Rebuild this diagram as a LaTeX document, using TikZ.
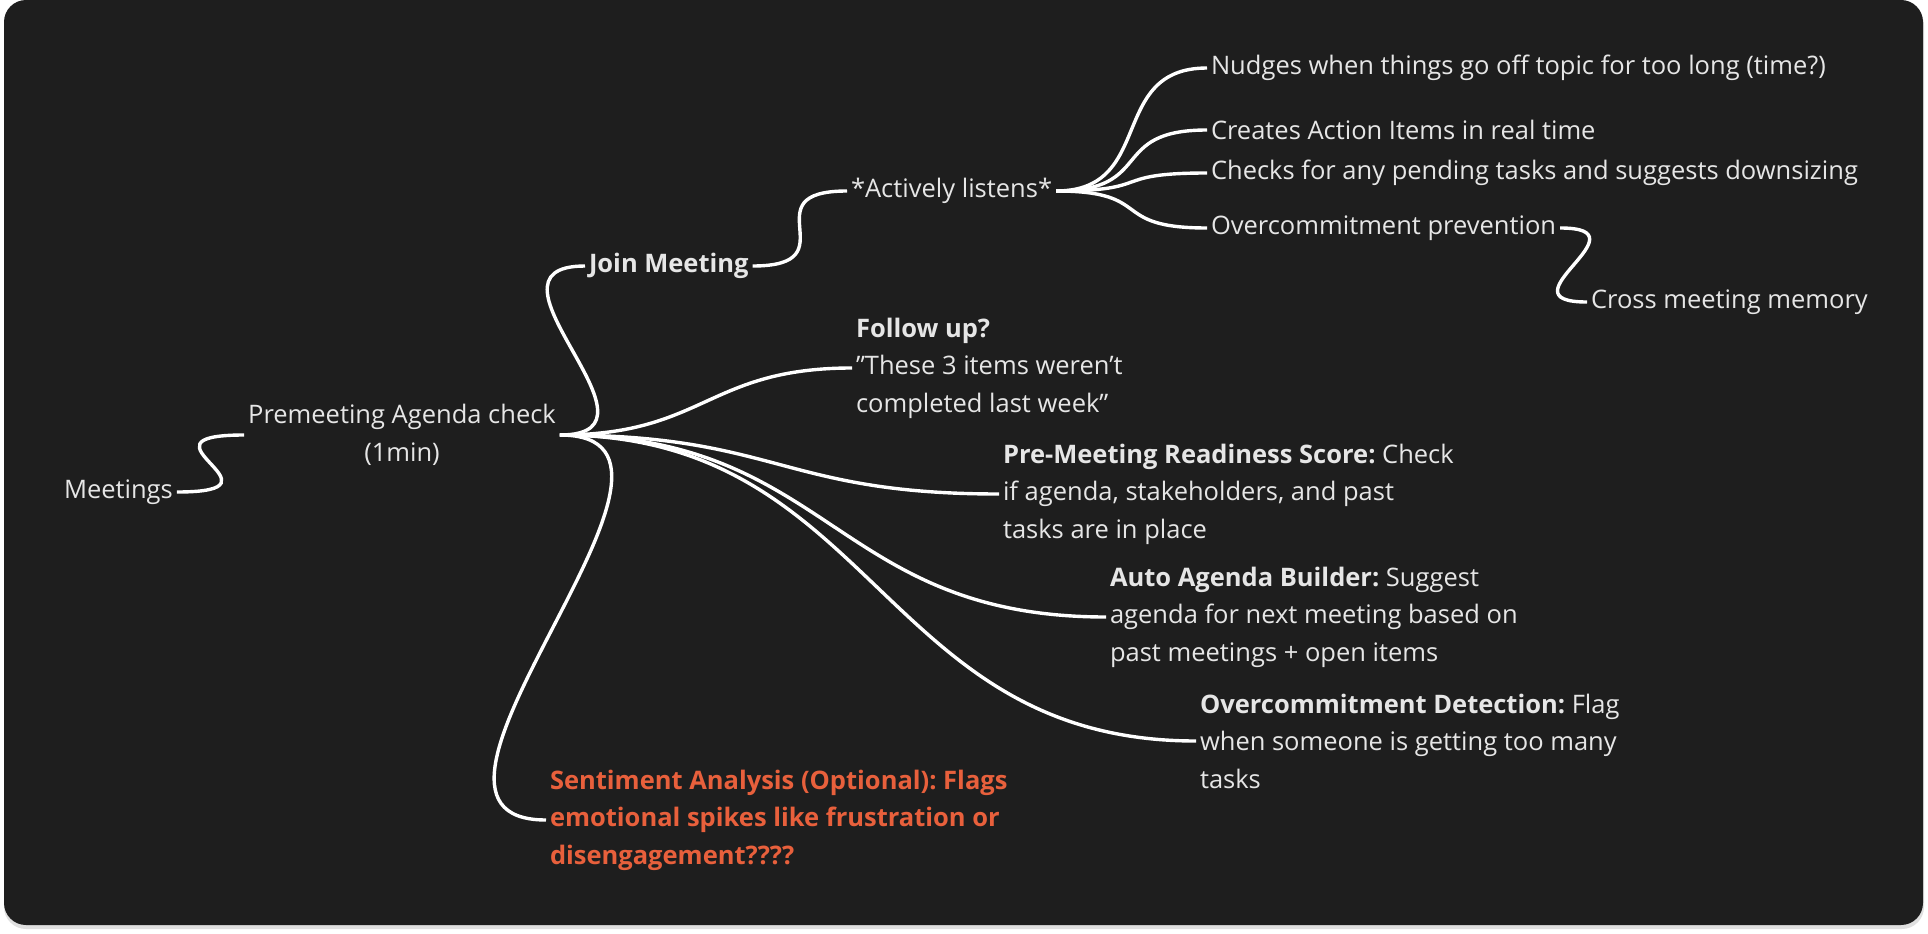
\documentclass[tikz,border=0pt]{standalone}
\usepackage{fontspec}
\setmainfont{Open Sans}
\usepackage{xcolor}
\definecolor{board}{HTML}{1E1E1E}
\definecolor{ink}{HTML}{E6E6E6}
\definecolor{alert}{HTML}{E8603C}
\frenchspacing

\begin{document}
\begin{tikzpicture}[
    x=1pt, y=-1pt,
    idea/.style={anchor=west, text=ink, inner sep=0pt, outer sep=4pt, align=left,
        font=\fontsize{25.5}{37.5}\selectfont},
    link/.style={draw=white, line width=3.4pt}
]
    % Board
    \useasboundingbox (0,0) rectangle (1928,934);
    \fill[black!12, rounded corners=22pt] (4,3) rectangle (1924,929);
    \fill[board, rounded corners=22pt] (4,0) rectangle (1923,925);

    % Ideas
    \node[idea] (meet) at (60,492) {Meetings};
    \node[idea, anchor=center, align=center] (pre) at (402,435) {Premeeting Agenda check\\(1min)};
    \node[idea, font=\fontsize{25.5}{37.5}\selectfont\bfseries] (join) at (585,266) {Join Meeting};
    \node[idea] (listen) at (847,191) {*Actively listens*};
    \node[idea] (nudge) at (1207,68) {Nudges when things go off topic for too long (time?)};
    \node[idea] (action) at (1207,130) {Creates Action Items in real time};
    \node[idea] (pending) at (1207,173) {Checks for any pending tasks and suggests downsizing};
    \node[idea] (prevent) at (1207,228) {Overcommitment prevention};
    \node[idea] (cross) at (1587,302) {Cross meeting memory};
    \node[idea] (follow) at (852,368) {\textbf{Follow up?}\\”These 3 items weren’t\\completed last week”};
    \node[idea] (ready) at (999,494) {\textbf{Pre-Meeting Readiness Score:} Check\\if agenda, stakeholders, and past\\tasks are in place};
    \node[idea] (agenda) at (1106,617) {\textbf{Auto Agenda Builder:} Suggest\\agenda for next meeting based on\\past meetings + open items};
    \node[idea] (detect) at (1196,741) {\textbf{Overcommitment Detection:} Flag\\when someone is getting too many\\tasks};
    \node[idea, text=alert, font=\fontsize{25.5}{37.5}\selectfont\bfseries] (mood) at (546,820) {Sentiment Analysis (Optional): Flags\\emotional spikes like frustration or\\disengagement????};

    % Links
    \draw[link] (meet.east) .. controls +(120,0) and +(-120,0) .. (pre.west);
    \draw[link] (pre.east) .. controls +(120,0) and +(-120,0) .. (join.west);
    \draw[link] (join.east) .. controls +(100,0) and +(-100,0) .. (listen.west);
    \draw[link] (listen.east) .. controls +(100,0) and +(-100,0) .. (nudge.west);
    \draw[link] (listen.east) .. controls +(100,0) and +(-100,0) .. (action.west);
    \draw[link] (listen.east) .. controls +(100,0) and +(-100,0) .. (pending.west);
    \draw[link] (listen.east) .. controls +(100,0) and +(-100,0) .. (prevent.west);
    \draw[link] (prevent.east) .. controls +(90,0) and +(-90,0) .. (cross.west);
    \draw[link] (pre.east) .. controls +(145,0) and +(-145,0) .. (follow.west);
    \draw[link] (pre.east) .. controls +(218,0) and +(-218,0) .. (ready.west);
    \draw[link] (pre.east) .. controls +(272,0) and +(-272,0) .. (agenda.west);
    \draw[link] (pre.east) .. controls +(316,0) and +(-316,0) .. (detect.west);
    \draw[link] (pre.east) .. controls +(185,0) and +(-185,0) .. (mood.west);
\end{tikzpicture}
\end{document}
